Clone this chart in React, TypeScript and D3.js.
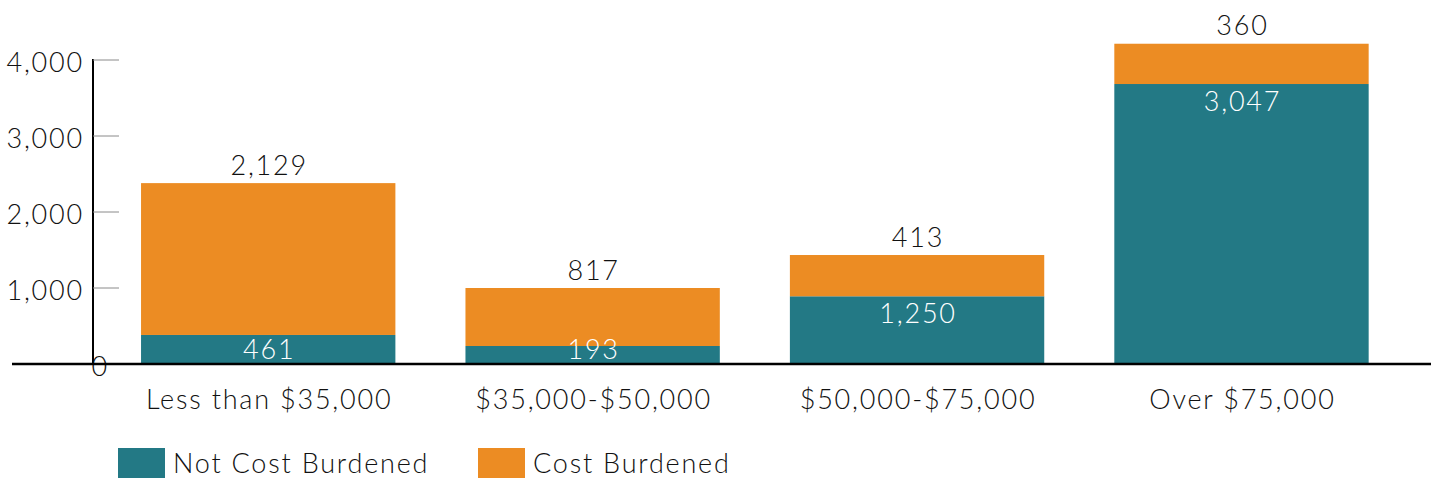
import React from "react";
import * as d3 from "d3";

// bar heights as drawn in the picture
const categories = ["Less than $35,000", "$35,000-$50,000", "$50,000-$75,000", "Over $75,000"];
const notBurdened = [382, 237, 891, 3684];
const burdened = [1998, 763, 543, 530];
// numbers printed on the bars
const notBurdenedLabels = ["461", "193", "1,250", "3,047"];
const burdenedLabels = ["2,129", "817", "413", "360"];
const yTicks = [0, 1000, 2000, 3000, 4000];
const seriesNames = ["Not Cost Burdened", "Cost Burdened"];

const TEAL = "#237985";
const ORANGE = "#EC8C23";
const FONT = "Lato, 'Open Sans', sans-serif";
const SPACING = "1.8px";

export default function App() {
  const width = 1431;
  const height = 479;
  const axisX = 93;
  const svgRef = React.useRef<SVGSVGElement>(null);

  React.useEffect(() => {
    document.body.style.margin = "0";
    const svg = d3.select(svgRef.current);
    svg.selectAll("*").remove();

    const x = d3
      .scaleBand()
      .domain(categories)
      .range([106, 1403.7])
      .paddingInner(0.216)
      .paddingOuter(0.108);

    const y = d3.scaleLinear().domain([0, 4000]).range([364, 60]);

    const rows = categories.map((c, i) => ({
      cat: c,
      not: notBurdened[i],
      cost: burdened[i],
      notLabel: notBurdenedLabels[i],
      costLabel: burdenedLabels[i],
    }));

    const textStyle = (sel: any) =>
      sel
        .style("font-family", FONT)
        .style("font-weight", 300)
        .style("font-size", "27px")
        .style("letter-spacing", SPACING);

    // y axis
    const yAxis = svg.append("g");
    yAxis
      .append("line")
      .attr("x1", axisX)
      .attr("x2", axisX)
      .attr("y1", y(4000) - 1)
      .attr("y2", y(0))
      .attr("stroke", "#000")
      .attr("stroke-width", 2);
    yAxis
      .selectAll(".tick")
      .data(yTicks.filter((d) => d > 0))
      .join("line")
      .attr("x1", axisX)
      .attr("x2", axisX + 26)
      .attr("y1", (d) => y(d))
      .attr("y2", (d) => y(d))
      .attr("stroke", "#8a8a8a")
      .attr("stroke-width", 1);
    yAxis
      .selectAll("text")
      .data(yTicks)
      .join("text")
      .attr("x", (d) => (d === 0 ? axisX + 16 : axisX - 9))
      .attr("y", (d) => y(d) + 11.5)
      .attr("text-anchor", "end")
      .call(textStyle)
      .style("fill", "#111")
      .text((d) => d3.format(",")(d));

    // stacked bars
    const bars = svg.append("g");
    bars
      .selectAll(".not")
      .data(rows)
      .join("rect")
      .attr("x", (d) => x(d.cat)!)
      .attr("width", x.bandwidth())
      .attr("y", (d) => y(d.not))
      .attr("height", (d) => y(0) - y(d.not))
      .attr("fill", TEAL);
    bars
      .selectAll(".cost")
      .data(rows)
      .join("rect")
      .attr("x", (d) => x(d.cat)!)
      .attr("width", x.bandwidth())
      .attr("y", (d) => y(d.not + d.cost))
      .attr("height", (d) => y(d.not) - y(d.not + d.cost))
      .attr("fill", ORANGE);

    // baseline
    svg
      .append("line")
      .attr("x1", 12)
      .attr("x2", width)
      .attr("y1", y(0))
      .attr("y2", y(0))
      .attr("stroke", "#000")
      .attr("stroke-width", 2.5);

    // value labels
    const labels = svg.append("g").call(textStyle);
    labels
      .selectAll(".top")
      .data(rows)
      .join("text")
      .attr("x", (d) => x(d.cat)! + x.bandwidth() / 2 + 1)
      .attr("y", (d) => y(d.not + d.cost) - 8.5)
      .attr("text-anchor", "middle")
      .style("fill", "#111")
      .text((d) => d.costLabel);
    labels
      .selectAll(".inner")
      .data(rows)
      .join("text")
      .attr("x", (d) => x(d.cat)! + x.bandwidth() / 2 + 1)
      .attr("y", (d) => Math.min(y(d.not) + 26.5, y(0) - 5))
      .attr("text-anchor", "middle")
      .style("fill", "#fff")
      .text((d) => d.notLabel);

    // category labels
    svg
      .append("g")
      .selectAll("text")
      .data(categories)
      .join("text")
      .attr("x", (d) => x(d)! + x.bandwidth() / 2 + 1)
      .attr("y", 409)
      .attr("text-anchor", "middle")
      .call(textStyle)
      .style("fill", "#111")
      .text((d) => d);

    // legend
    const legendX = [118, 478];
    const legend = svg
      .append("g")
      .selectAll("g")
      .data(seriesNames)
      .join("g")
      .attr("transform", (d, i) => `translate(${legendX[i]},448)`);
    legend
      .append("rect")
      .attr("width", 47)
      .attr("height", 30)
      .attr("fill", (d, i) => (i === 0 ? TEAL : ORANGE));
    legend
      .append("text")
      .attr("x", 55)
      .attr("y", 25)
      .call(textStyle)
      .style("fill", "#111")
      .text((d) => d);
  }, []);

  return <svg ref={svgRef} width={width} height={height} style={{ display: "block" }} />;
}
